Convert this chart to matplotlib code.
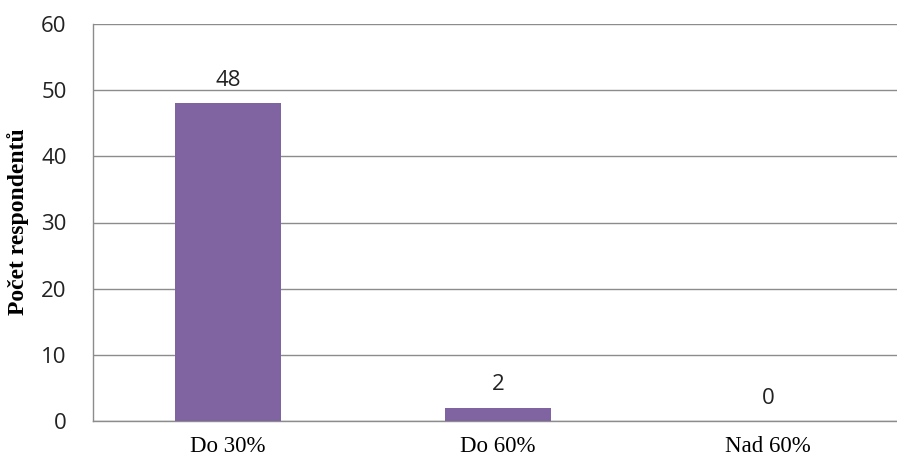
import matplotlib.pyplot as plt

categories = ["Do 30%", "Do 60%", "Nad 60%"]
counts = [48, 2, 0]

W, H = 897, 463
fig = plt.figure(figsize=(W / 100, H / 100), dpi=100)
# plot area runs a little past the right edge of the canvas
left, right, top, bottom = 93, 903, 24, 421
ax = fig.add_axes([left / W, 1 - bottom / H, (right - left) / W, (bottom - top) / H])

x = range(len(categories))
ax.bar(x, counts, width=0.39, color="#8064A2", zorder=3)
for xi, v in zip(x, counts):
    ax.annotate(str(v), (xi, v), xytext=(0, 9), textcoords="offset points",
                ha="center", va="bottom", fontsize=16, color="#222222",
                family="Open Sans")

ax.set_xlim(-0.5, 2.5)
ax.set_ylim(0, 60)
ax.set_yticks(range(0, 61, 10))
ax.grid(axis="y", color="#8c8c8c", lw=1.0, zorder=0)
ax.set_axisbelow(True)
for s in ("top", "right"):
    ax.spines[s].set_visible(False)
for s in ("left", "bottom"):
    ax.spines[s].set_color("#8c8c8c")
    ax.spines[s].set_linewidth(1.0)

ax.tick_params(length=0)
ax.tick_params(axis="y", pad=19, labelsize=16, labelcolor="#222222")
for lab in ax.get_yticklabels():
    lab.set_family("Open Sans")
ax.set_xticks(list(x))
ax.set_xticklabels(categories, family="Liberation Serif", fontsize=16.5)
ax.tick_params(axis="x", pad=11)

fig.text(18 / W, 1 - 222 / H, "Počet respondentů", rotation=90,
         ha="center", va="center", family="Liberation Serif",
         fontweight="bold", fontsize=17)

fig.savefig("out.png", dpi=100)
